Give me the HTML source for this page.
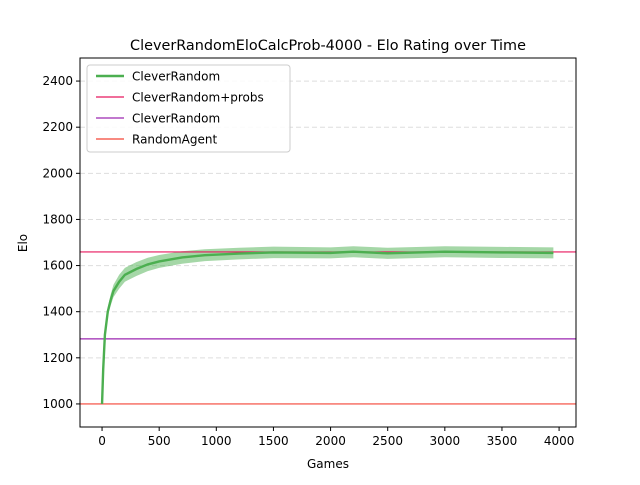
<!DOCTYPE html>
<html><head><meta charset="utf-8"><style>
body{margin:0;background:#fff;font-family:"Liberation Sans","DejaVu Sans",sans-serif}
svg text{font-family:"DejaVu Sans","Liberation Sans",sans-serif}
</style></head><body>
<svg id="c" width="640" height="480" xmlns="http://www.w3.org/2000/svg"></svg>
<script>
const games=[0,10,25,50,75,100,150,200,300,400,500,700,900,1200,1500,2000,2200,2500,3000,3500,3950];
const elo=[1000,1150,1300,1400,1450,1490,1530,1560,1585,1605,1618,1635,1645,1652,1657,1655,1660,1653,1660,1657,1655];
const band=[0,8,14,20,24,27,30,30,30,29,28,27,26,25,25,24,24,24,24,24,24];
const refNames=["CleverRandom+probs","CleverRandom","RandomAgent"];
const refValues=[1659,1282,1000];
const refColors=["#e8175d","#9c27b0","#f44336"];
const xTicks=[0,500,1000,1500,2000,2500,3000,3500,4000];
const yTicks=[1000,1200,1400,1600,1800,2000,2200,2400];

const L=80,R=576,T=58,B=427,xmin=-193,xmax=4148,ymin=900,ymax=2500;
const X=v=>L+(v-xmin)/(xmax-xmin)*(R-L);
const Y=v=>B-(v-ymin)/(ymax-ymin)*(B-T);
const svg=document.getElementById('c');
const NS="http://www.w3.org/2000/svg";
function mk(tag,attrs,parent){const e=document.createElementNS(NS,tag);for(const k in attrs)e.setAttribute(k,attrs[k]);(parent||svg).appendChild(e);return e;}

yTicks.forEach(v=>{
 const g=mk('line',{x1:L,x2:R,y1:Y(v),y2:Y(v),stroke:"#ddd","stroke-dasharray":"5,3","stroke-width":1});
 
 
});
let up=games.map((g,i)=>X(g)+","+Y(elo[i]+band[i])).join(" ");
let dn=games.map((g,i)=>X(g)+","+Y(elo[i]-band[i])).reverse().join(" ");
const bp=mk('polygon',{points:up+" "+dn,fill:"#4caf50","fill-opacity":0.5});


refValues.forEach((v,i)=>{
 const l=mk('line',{x1:L,x2:R,y1:Y(v),y2:Y(v),stroke:refColors[i],"stroke-width":1.2});
 
 
});
const pl=mk('polyline',{points:games.map((g,i)=>X(g)+","+Y(elo[i])).join(" "),fill:"none",stroke:"#4caf50","stroke-width":2.4});


const fr=mk('rect',{x:L,y:T,width:R-L,height:B-T,fill:"none",stroke:"#000","stroke-width":1});


xTicks.forEach(v=>{
 mk('line',{x1:X(v),x2:X(v),y1:B,y2:B+4,stroke:"#000"});
 const t=mk('text',{x:X(v),y:B+18,"text-anchor":"middle","font-size":12});t.textContent=v;
 
 
});
yTicks.forEach(v=>{
 mk('line',{x1:L-4,x2:L,y1:Y(v),y2:Y(v),stroke:"#000"});
 const t=mk('text',{x:L-7,y:Y(v)+4,"text-anchor":"end","font-size":12});t.textContent=v;
 
 
});
let t=mk('text',{x:328,y:468,"text-anchor":"middle","font-size":12});t.textContent="Games";


t=mk('text',{x:0,y:0,"text-anchor":"middle","font-size":12,transform:"translate(27,243) rotate(-90)"});t.textContent="Elo";


t=mk('text',{x:328,y:50,"text-anchor":"middle","font-size":14.4});t.textContent="CleverRandomEloCalcProb-4000 - Elo Rating over Time";


const lg=mk('g',{});


mk('rect',{x:87,y:65,width:203,height:87,rx:3,fill:"#fff","fill-opacity":0.85,stroke:"#ccc"},lg);
const lnames=["CleverRandom"].concat(refNames),lcols=["#4caf50"].concat(refColors),lw=[2.4,1.2,1.2,1.2];
lnames.forEach((n,i)=>{
 const y=76+i*21;
 mk('line',{x1:96,x2:124,y1:y,y2:y,stroke:lcols[i],"stroke-width":lw[i]},lg);
 const tx=mk('text',{x:132,y:y+4.5,"font-size":12},lg);tx.textContent=n;
 
 
});
</script>
</body></html>
